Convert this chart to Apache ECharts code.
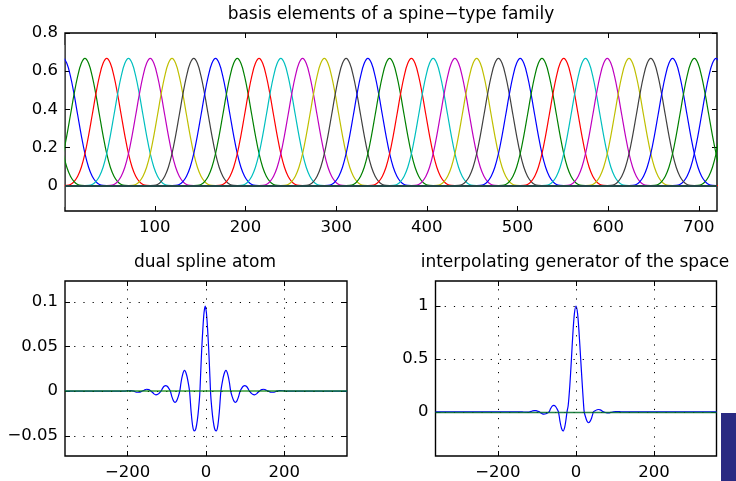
<!DOCTYPE html>
<html><head><meta charset="utf-8">
<script src="https://cdn.jsdelivr.net/npm/echarts@6/dist/echarts.min.js"></script>
<style>html,body{margin:0;padding:0;background:#fff}#c{width:736px;height:481px}</style>
</head><body><div id="c"></div>
<script>
// ---------- data ----------
const basisCenters = [-1,23,47,71,95,119,143,167,191,215,239,263,287,311,335,359,383,407,431,455,479,503,527,551,575,599,623,647,671,695];
const basisOffsets = [-48,-44,-40,-36,-32,-28,-24,-20,-16,-12,-8,-4,0,4,8,12,16,20,24,28,32,36,40,44,48];
const basisProfile = [0,0.0008,0.006,0.021,0.049,0.096,0.167,0.262,0.370,0.479,0.574,0.641,0.667,0.641,0.574,0.479,0.370,0.262,0.167,0.096,0.049,0.021,0.006,0.0008,0];
const basisPeriod = 720;

const dualX = [-360,-208,-200,-192,-184,-176,-170,-164,-158,-152,-146,-140,-136,-133,-128,-123,-119,-115,-111,-107,-103,-99,-95,-91,-87,-83,-79,-75,-71,-67,-64,-60,-55,-50,-46,-42,-38,-34,-30,-26,-22,-19,-16,-14,-11,-8,-5,-2,1,4,7,10,12,15,18,22,26,30,34,38,42,46,51,56,60,63,67,71,75,79,83,87,91,95,99,103,107,111,115,119,124,129,132,136,142,148,154,160,166,172,180,188,196,204,360];
const dualY = [0,0,0.0005,0.0006,0,-0.0012,-0.0012,0,0.001,0.0022,0.0018,0,-0.0015,-0.003,-0.004,-0.0035,-0.002,0,0.0032,0.0055,0.0063,0.0055,0.0032,0,-0.0063,-0.0108,-0.0125,-0.0108,-0.0063,0,0.009,0.018,0.0232,0.019,0.011,0,-0.023,-0.039,-0.0445,-0.042,-0.032,-0.020,-0.004,0.016,0.046,0.070,0.088,0.0953,0.088,0.070,0.046,0.016,-0.004,-0.020,-0.032,-0.042,-0.0445,-0.039,-0.023,0,0.011,0.019,0.0232,0.018,0.009,0,-0.0063,-0.0108,-0.0125,-0.0108,-0.0063,0,0.0032,0.0055,0.0063,0.0055,0.0032,0,-0.002,-0.0035,-0.004,-0.003,-0.0015,0,0.0018,0.0022,0.001,0,-0.0012,-0.0012,0,0.0006,0.0005,0,0];

const interpX = [-360,-150,-138,-130,-124,-118,-112,-107,-102,-98,-94,-90,-86,-82,-77,-73,-69,-65,-61,-57,-53,-49,-45,-41,-37,-33,-29,-26,-23,-20,-16,-12,-8,-4,0,4,8,12,16,19,21,24,28,32,36,40,45,49,54,58,62,66,70,74,79,84,89,96,102,108,115,122,360];
const interpY = [0,0,0,-0.003,-0.003,0,0.008,0.0125,0.011,0.006,0,-0.011,-0.019,-0.022,-0.018,-0.010,0,0.031,0.054,0.062,0.054,0.031,0,-0.09,-0.157,-0.181,-0.146,-0.082,0,0.06,0.24,0.48,0.74,0.93,1,0.93,0.74,0.5,0.26,0.09,0,-0.043,-0.086,-0.103,-0.09,-0.058,0,0.010,0.0195,0.022,0.019,0.011,0,-0.005,-0.009,-0.009,-0.005,0,0.002,0.003,0.001,0,0];

const topXTicks = [100,200,300,400,500,600,700];
const topYTicks = [0,0.2,0.4,0.6,0.8];
const botXTicks = [-200,0,200];
const dualYTicks = [-0.05,0,0.05,0.1];
const interpYTicks = [0,0.5,1];

const titles = ['basis elements of a spine\u2212type family','dual spline atom','interpolating generator of the space'];

// ---------- styling ----------
const FONT = 'DejaVu Sans';
const palette = ['#0000ff','#008000','#ff0000','#00bfbf','#bf00bf','#bfbf00','#404040'];
const fmt = v => (v < 0 ? '\u2212' + String(Math.abs(v)) : String(v));

function xAx(grid, min, max, ticks, pos, showLabel) {
  return {
    type: 'value', gridIndex: grid, min: min, max: max, position: pos,
    axisLine: {show: false, onZero: false},
    axisTick: {show: true, inside: true, length: 5, customValues: ticks, lineStyle: {color: '#000'}},
    axisLabel: {show: showLabel, customValues: ticks, margin: 8, formatter: fmt,
      fontFamily: FONT, fontSize: 16.5, color: '#000'},
    splitLine: {show: false}
  };
}
function yAx(grid, min, max, ticks, pos, showLabel) {
  return {
    type: 'value', gridIndex: grid, min: min, max: max, position: pos,
    axisLine: {show: false, onZero: false},
    axisTick: {show: true, inside: true, length: 5, customValues: ticks, lineStyle: {color: '#000'}},
    axisLabel: {show: showLabel, customValues: ticks, margin: 7, formatter: fmt,
      fontFamily: FONT, fontSize: 16.5, color: '#000'},
    splitLine: {show: false}
  };
}

// build basis series (periodic copies)
const series = [];
basisCenters.forEach((c, k) => {
  const data = [];
  [-basisPeriod, 0, basisPeriod].forEach(shift => {
    const cc = c + shift;
    if (cc + basisOffsets[basisOffsets.length - 1] < 1 || cc + basisOffsets[0] > 720) return;
    basisOffsets.forEach((o, i) => data.push([cc + o, basisProfile[i]]));
    data.push(null);
  });
  series.push({
    type: 'line', xAxisIndex: 0, yAxisIndex: 0, data: data, showSymbol: false,
    smooth: 0.4, connectNulls: false, z: 2, clip: true,
    lineStyle: {color: palette[k % palette.length], width: 1.2}
  });
});
// top zero line
series.push({
  type: 'line', xAxisIndex: 0, yAxisIndex: 0, data: [], z: 5,
  markLine: {silent: true, symbol: ['none','none'], label: {show: false}, animation: false,
    data: [{yAxis: 0}], lineStyle: {color: '#234848', width: 2.2, type: 'solid'}}
});

function gridLines(xi, yi, xt, yt) {
  return {
    type: 'line', xAxisIndex: xi, yAxisIndex: yi, data: [], z: 1,
    markLine: {silent: true, symbol: ['none','none'], label: {show: false}, animation: false,
      lineStyle: {color: '#000', width: 1, type: [1.2, 8]},
      data: xt.map(v => ({xAxis: v})).concat(yt.map(v => ({yAxis: v})))}
  };
}
function zeroLine(xi, yi, color, width) {
  return {
    type: 'line', xAxisIndex: xi, yAxisIndex: yi, data: [], z: 4,
    markLine: {silent: true, symbol: ['none','none'], label: {show: false}, animation: false,
      data: [{yAxis: 0}], lineStyle: {color: color, width: width, type: 'solid'}}
  };
}
series.push(gridLines(2, 2, botXTicks, dualYTicks));
series.push({type: 'line', xAxisIndex: 2, yAxisIndex: 2, showSymbol: false, smooth: 0.3, z: 3,
  data: dualX.map((x, i) => [x, dualY[i]]), lineStyle: {color: '#0000ff', width: 1.2}});
series.push(zeroLine(2, 2, 'rgba(0,128,0,0.6)', 1.8));

series.push(gridLines(4, 4, botXTicks, interpYTicks));
series.push({type: 'line', xAxisIndex: 4, yAxisIndex: 4, showSymbol: false, smooth: 0.3, z: 3,
  data: interpX.map((x, i) => [x, interpY[i]]), lineStyle: {color: '#0000ff', width: 1.2}});
series.push(zeroLine(4, 4, 'rgba(0,110,40,0.85)', 1.3));

const chart = echarts.init(document.getElementById('c'), null, {renderer: 'canvas'});
chart.setOption({
  animation: false,
  backgroundColor: '#fff',
  grid: [
    {left: 65, top: 33, width: 652, height: 178, show: true, borderColor: '#000', borderWidth: 1.4, backgroundColor: 'transparent'},
    {left: 65, top: 281, width: 282, height: 177.5, show: true, borderColor: '#000', borderWidth: 1.4, backgroundColor: 'transparent'},
    {left: 435.5, top: 281, width: 281, height: 177.5, show: true, borderColor: '#000', borderWidth: 1.4, backgroundColor: 'transparent'}
  ],
  xAxis: [
    xAx(0, 1, 720, topXTicks, 'bottom', true),
    xAx(0, 1, 720, topXTicks, 'top', false),
    xAx(1, -360, 360, botXTicks, 'bottom', true),
    xAx(1, -360, 360, botXTicks, 'top', false),
    xAx(2, -360, 360, botXTicks, 'bottom', true),
    xAx(2, -360, 360, botXTicks, 'top', false)
  ],
  yAxis: [
    yAx(0, -0.1333, 0.8, topYTicks, 'left', true),
    yAx(0, -0.1333, 0.8, topYTicks, 'right', false),
    yAx(1, -0.0725, 0.1233, dualYTicks, 'left', true),
    yAx(1, -0.0725, 0.1233, dualYTicks, 'right', false),
    yAx(2, -0.417, 1.236, interpYTicks, 'left', true),
    yAx(2, -0.417, 1.236, interpYTicks, 'right', false)
  ],
  graphic: [
    {type: 'rect', z: 50, silent: true, shape: {x: 718, y: 28, width: 18, height: 188}, style: {fill: '#fff'}},
    {type: 'rect', z: 50, silent: true, shape: {x: 59.5, y: 45, width: 4.8, height: 162}, style: {fill: '#fff'}},
    {type: 'text', z: 60, style: {text: titles[0], x: 391, y: 15, textAlign: 'center', textVerticalAlign: 'middle', font: '17px "DejaVu Sans"', fill: '#000'}},
    {type: 'text', z: 60, style: {text: titles[1], x: 205, y: 263, textAlign: 'center', textVerticalAlign: 'middle', font: '17px "DejaVu Sans"', fill: '#000'}},
    {type: 'text', z: 60, style: {text: titles[2], x: 575, y: 263, textAlign: 'center', textVerticalAlign: 'middle', font: '17px "DejaVu Sans"', fill: '#000'}},
    {type: 'rect', z: 60, shape: {x: 721, y: 413, width: 15, height: 68}, style: {fill: '#2a2a82'}}
  ],
  series: series
});
</script></body></html>
